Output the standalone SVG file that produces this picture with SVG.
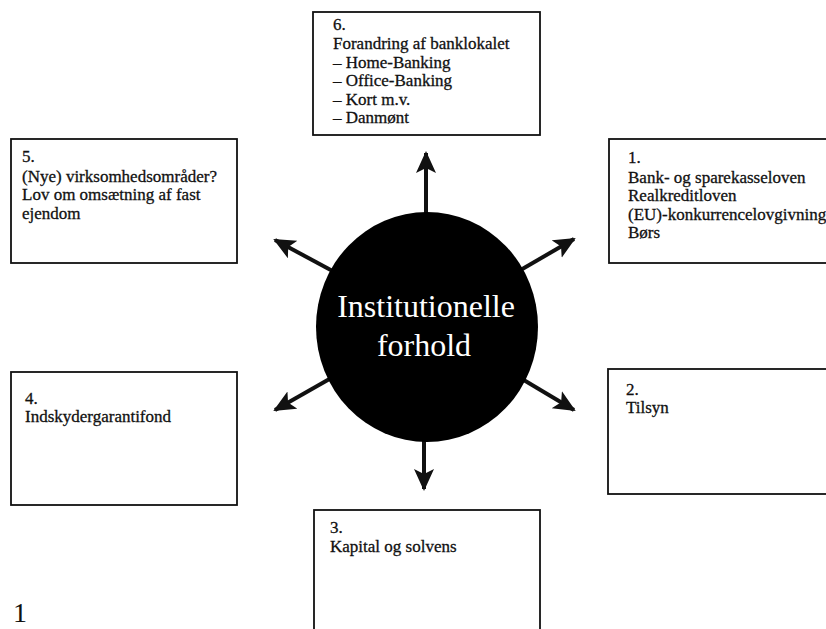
<svg xmlns="http://www.w3.org/2000/svg" width="826" height="629" viewBox="0 0 826 629">
<style>
.box{fill:#fff;stroke:#111;stroke-width:1.8}
.t{font-family:"Liberation Serif","Times New Roman",serif;font-size:17px;fill:#111;stroke:#111;stroke-width:0.3}
.c{font-family:"Liberation Serif","Times New Roman",serif;font-size:32px;fill:#fff;text-anchor:middle}
.ar{stroke:#111;stroke-width:4;fill:none;marker-end:url(#ah)}
</style>
<defs>
<marker id="ah" markerUnits="userSpaceOnUse" markerWidth="24" markerHeight="22" refX="20" refY="10" orient="auto">
<path d="M0,0 L22,10 L0,20 L5,10 z" fill="#111"/>
</marker>
</defs>
<rect width="826" height="629" fill="#fff"/>
<g id="connectors">
<line class="ar" x1="426" y1="230" x2="426" y2="153"/>
<line class="ar" x1="424" y1="425" x2="424" y2="489"/>
<line class="ar" x1="340" y1="275" x2="275" y2="240"/>
<line class="ar" x1="512" y1="275" x2="574" y2="239"/>
<line class="ar" x1="340" y1="373" x2="275" y2="410"/>
<line class="ar" x1="512" y1="373" x2="574" y2="410"/>
</g>
<g id="center">
<ellipse cx="427" cy="327" rx="111" ry="115" fill="#000"/>
<text class="c" x="426" y="317">Institutionelle</text>
<text class="c" x="424" y="356">forhold</text>
</g>
<g id="node6">
<rect class="box" x="313" y="12" width="227" height="123"/>
<text class="t" x="333" y="30">6.</text>
<text class="t" x="333" y="49">Forandring af banklokalet</text>
<text class="t" x="333" y="67.5">– Home-Banking</text>
<text class="t" x="333" y="86">– Office-Banking</text>
<text class="t" x="333" y="104.5">– Kort m.v.</text>
<text class="t" x="333" y="123">– Danmønt</text>
</g>
<g id="node5">
<rect class="box" x="11" y="139" width="226" height="124"/>
<text class="t" x="22" y="162">5.</text>
<text class="t" x="22" y="181.5">(Nye) virksomhedsområder?</text>
<text class="t" x="22" y="200">Lov om omsætning af fast</text>
<text class="t" x="22" y="218.5">ejendom</text>
</g>
<g id="node1">
<rect class="box" x="609" y="139" width="226" height="124"/>
<text class="t" x="628" y="163">1.</text>
<text class="t" x="628" y="182.5">Bank- og sparekasseloven</text>
<text class="t" x="628" y="201">Realkreditloven</text>
<text class="t" x="628" y="219.5">(EU)-konkurrencelovgivning</text>
<text class="t" x="628" y="238">Børs</text>
</g>
<g id="node4">
<rect class="box" x="11" y="372" width="226" height="133"/>
<text class="t" x="25" y="404">4.</text>
<text class="t" x="25" y="422">Indskydergarantifond</text>
</g>
<g id="node2">
<rect class="box" x="608" y="369" width="226" height="125"/>
<text class="t" x="626" y="395">2.</text>
<text class="t" x="626" y="413">Tilsyn</text>
</g>
<g id="node3">
<rect class="box" x="314" y="510" width="226" height="140"/>
<text class="t" x="330" y="533">3.</text>
<text class="t" x="330" y="552">Kapital og solvens</text>
</g>
<text x="13" y="622" font-family="Liberation Serif, serif" font-size="28" fill="#111">1</text>
</svg>
